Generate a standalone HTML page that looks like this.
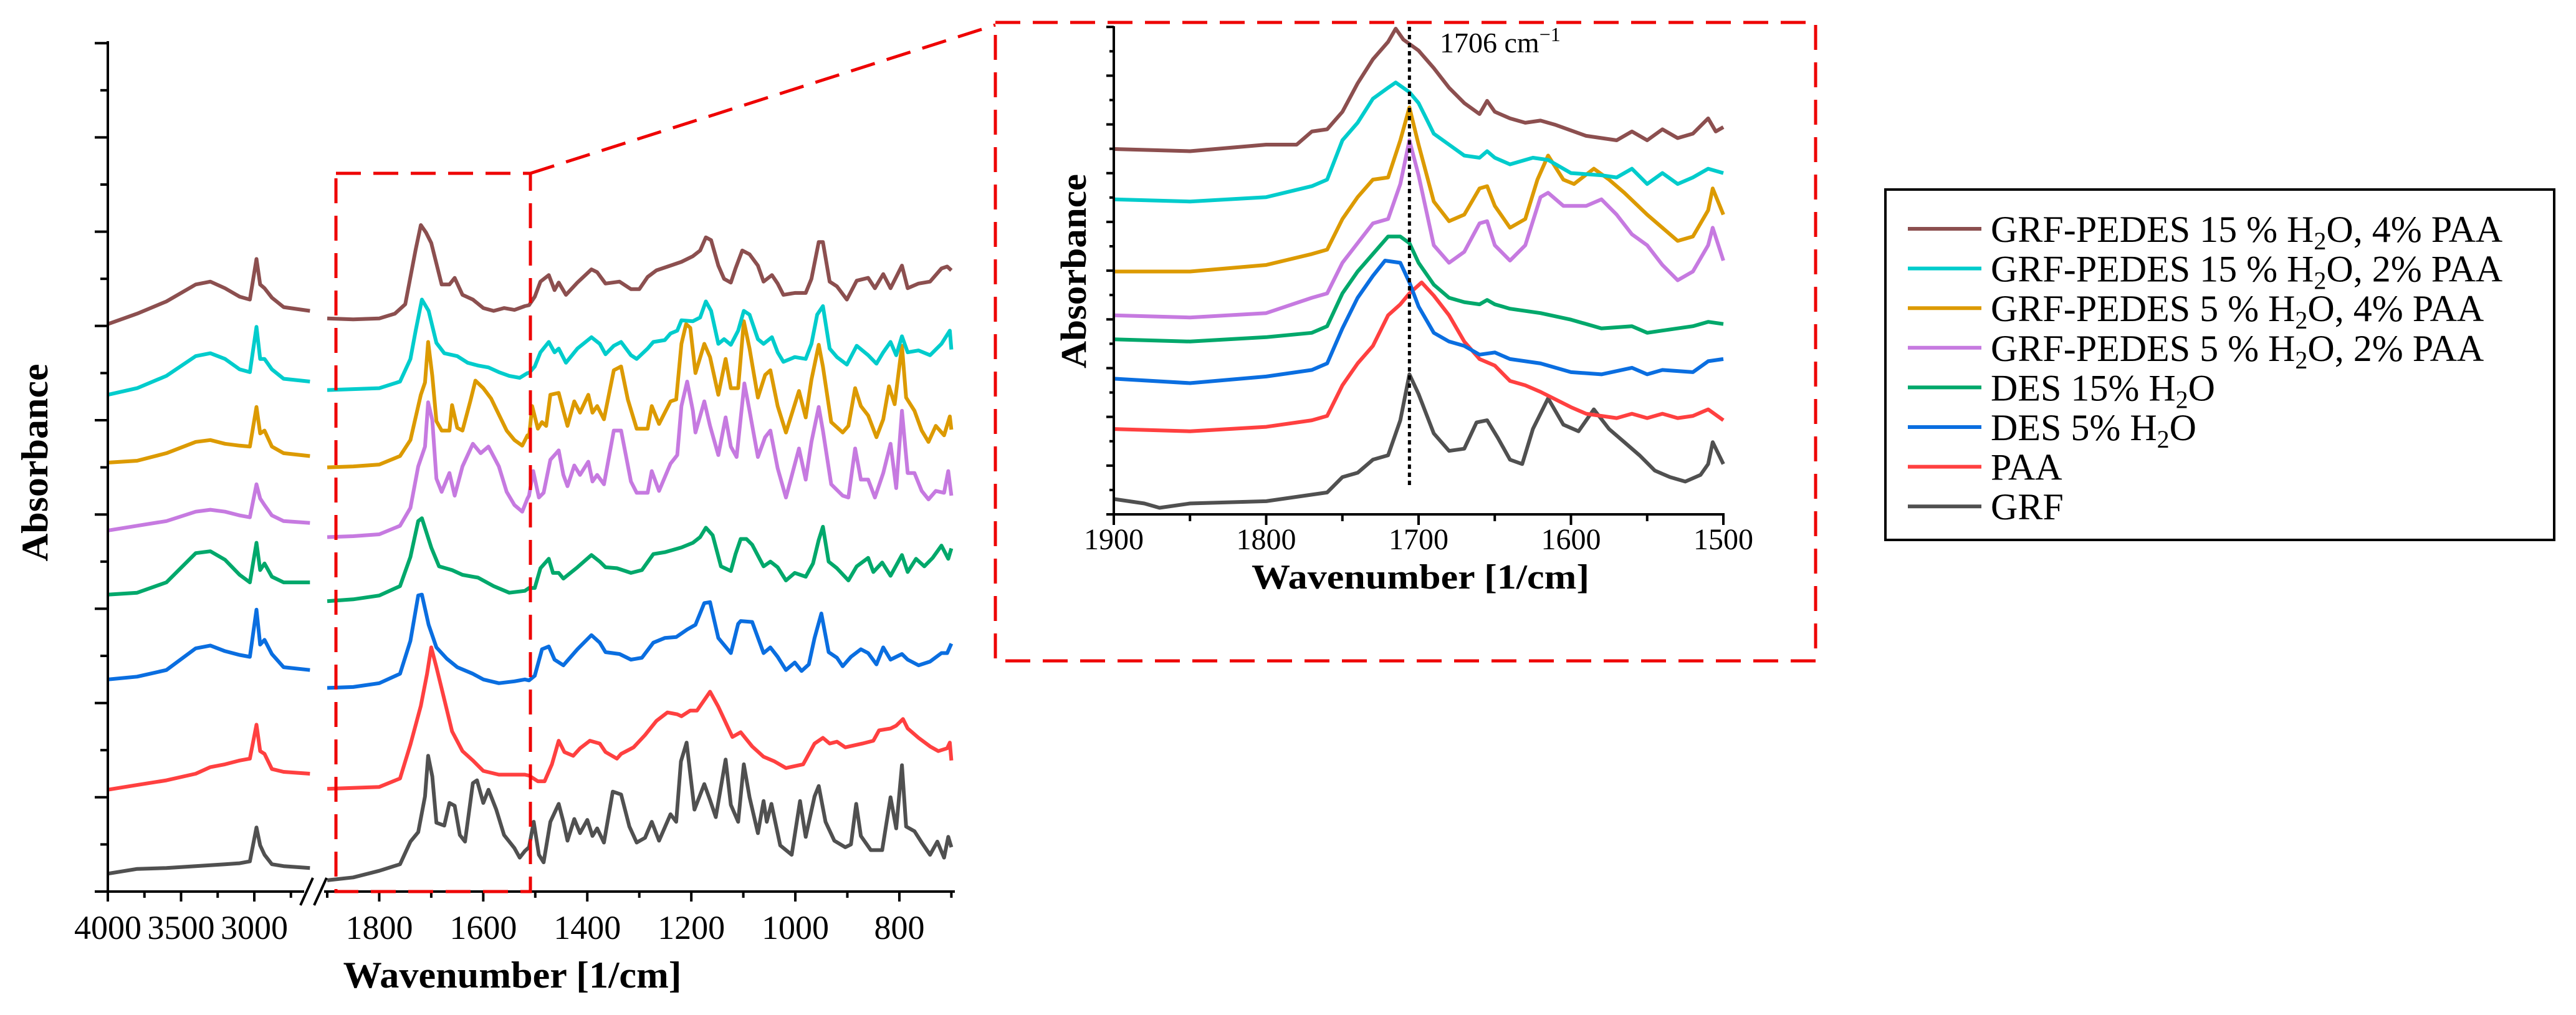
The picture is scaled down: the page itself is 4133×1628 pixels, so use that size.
<!DOCTYPE html>
<html><head><meta charset="utf-8"><style>html,body{margin:0;padding:0;background:#fff}svg{display:block}text{font-family:"Liberation Serif",serif}</style></head>
<body>
<svg id="chart" width="4133" height="1628" viewBox="0 0 4133 1628" xmlns="http://www.w3.org/2000/svg">
<rect width="4133" height="1628" fill="#fff"/>
<g id="main"></g>
<g id="inset"></g>
<g id="zoomMarks">
<rect x="539" y="278" width="312" height="1152" fill="none" stroke="#e00" stroke-width="5" stroke-dasharray="40 20"/>
<line x1="851" y1="278" x2="1597" y2="40" stroke="#e00" stroke-width="5" stroke-dasharray="40 20"/>
<rect x="1597" y="36" width="1316" height="1024" fill="none" stroke="#e00" stroke-width="5" stroke-dasharray="40 20"/>
</g>
<g>
<rect x="3025" y="304" width="1073" height="562" fill="#fff" stroke="#000" stroke-width="4"/>
<g id="legendItems"></g>
</g>
</svg>
<script>
const seriesNames = ["GRF-PEDES 15 % H2O, 4% PAA","GRF-PEDES 15 % H2O, 2% PAA","GRF-PEDES 5 % H2O, 4% PAA","GRF-PEDES 5 % H2O, 2% PAA","DES 15% H2O","DES 5% H2O","PAA","GRF"];
const seriesColors = ["#8c4f4f","#00cccc","#dc9a00","#c67ae0","#00a86b","#0a6ee0","#ff4040","#505050"];
const xTicksLeft = [4000,3500,3000];
const xTicksRight = [1800,1600,1400,1200,1000,800];
const insetTicks = [1900,1800,1700,1600,1500];
const markerWn = 1706;
const leftWn = [4000,3800,3600,3400,3300,3200,3100,3030,2985,2960,2930,2880,2800,2620];
const leftBrown = [6.02,6.13,6.26,6.44,6.47,6.40,6.31,6.28,6.71,6.44,6.40,6.30,6.20,6.16];
const leftCyan = [5.27,5.34,5.47,5.68,5.71,5.65,5.54,5.51,5.99,5.65,5.65,5.54,5.44,5.41];
const leftGold = [4.55,4.57,4.65,4.77,4.79,4.75,4.73,4.72,5.14,4.86,4.89,4.72,4.65,4.62];
const leftPurple = [3.83,3.88,3.93,4.03,4.05,4.03,3.99,3.97,4.32,4.17,4.10,3.99,3.93,3.91];
const leftGreen = [3.15,3.17,3.28,3.59,3.61,3.52,3.36,3.28,3.70,3.41,3.48,3.34,3.28,3.28];
const leftBlue = [2.25,2.28,2.35,2.58,2.61,2.55,2.51,2.49,2.99,2.62,2.67,2.52,2.38,2.35];
const leftRed = [1.08,1.13,1.18,1.25,1.32,1.35,1.39,1.41,1.77,1.49,1.46,1.30,1.27,1.25];
const leftGray = [0.19,0.24,0.25,0.27,0.28,0.29,0.30,0.32,0.68,0.49,0.39,0.29,0.27,0.25];

const rightBrown = [[1900,6.08],[1850,6.07],[1800,6.08],[1770,6.13],[1750,6.23],[1730,6.81],[1720,7.07],[1710,6.99],[1700,6.88],[1680,6.44],[1665,6.44],[1655,6.51],[1640,6.33],[1620,6.28],[1600,6.19],[1580,6.16],[1560,6.19],[1540,6.17],[1520,6.21],[1512,6.22],[1501,6.31],[1490,6.47],[1474,6.54],[1463,6.38],[1455,6.46],[1441,6.33],[1419,6.46],[1392,6.60],[1381,6.57],[1365,6.45],[1338,6.47],[1316,6.39],[1300,6.39],[1284,6.52],[1267,6.59],[1240,6.64],[1219,6.68],[1197,6.74],[1183,6.80],[1172,6.94],[1162,6.91],[1148,6.64],[1137,6.50],[1124,6.46],[1115,6.61],[1102,6.80],[1088,6.76],[1072,6.64],[1061,6.47],[1045,6.54],[1034,6.45],[1023,6.33],[1001,6.35],[980,6.35],[969,6.50],[955,6.89],[947,6.89],[934,6.47],[920,6.42],[901,6.28],[882,6.48],[860,6.51],[847,6.40],[831,6.55],[817,6.40],[795,6.64],[784,6.40],[763,6.45],[741,6.47],[719,6.61],[708,6.63],[700,6.59]];
const rightCyan = [[1900,5.32],[1800,5.34],[1760,5.41],[1740,5.65],[1730,5.95],[1718,6.28],[1705,6.16],[1690,5.82],[1675,5.71],[1650,5.68],[1630,5.61],[1610,5.58],[1590,5.56],[1570,5.51],[1550,5.47],[1530,5.45],[1515,5.50],[1512,5.50],[1501,5.57],[1490,5.72],[1474,5.83],[1463,5.72],[1455,5.76],[1441,5.61],[1419,5.76],[1392,5.88],[1376,5.81],[1365,5.70],[1349,5.79],[1335,5.83],[1316,5.69],[1305,5.65],[1284,5.76],[1273,5.83],[1251,5.85],[1240,5.92],[1227,5.95],[1219,6.06],[1197,6.05],[1183,6.09],[1172,6.26],[1162,6.16],[1148,5.81],[1137,5.86],[1124,5.80],[1110,5.95],[1099,6.16],[1088,6.12],[1072,5.86],[1061,5.81],[1045,5.88],[1034,5.72],[1023,5.62],[1001,5.67],[980,5.65],[969,5.81],[958,6.12],[947,6.21],[934,5.76],[920,5.67],[901,5.59],[882,5.79],[860,5.69],[844,5.60],[831,5.72],[817,5.83],[806,5.69],[795,5.89],[784,5.72],[763,5.74],[741,5.69],[719,5.81],[703,5.95],[700,5.75]];
const rightGold = [[1900,4.50],[1850,4.51],[1800,4.53],[1760,4.62],[1740,4.79],[1720,5.27],[1712,5.40],[1706,5.83],[1698,5.47],[1690,4.99],[1680,4.89],[1665,4.89],[1660,5.16],[1650,4.92],[1640,4.89],[1625,5.20],[1615,5.42],[1600,5.34],[1585,5.23],[1570,5.06],[1555,4.89],[1540,4.79],[1525,4.73],[1515,4.84],[1512,4.82],[1506,5.15],[1495,4.91],[1487,4.98],[1479,4.94],[1471,5.27],[1455,5.29],[1446,5.10],[1438,4.94],[1425,5.20],[1414,5.08],[1398,5.27],[1390,5.08],[1381,5.15],[1368,5.01],[1349,5.53],[1335,5.57],[1322,5.22],[1305,4.91],[1284,4.91],[1276,5.15],[1262,4.96],[1240,5.20],[1229,5.22],[1219,5.81],[1210,6.02],[1202,5.98],[1192,5.50],[1175,5.81],[1164,5.67],[1148,5.27],[1134,5.65],[1124,5.34],[1110,5.34],[1099,6.05],[1088,5.76],[1072,5.24],[1058,5.48],[1048,5.53],[1034,5.15],[1018,4.87],[993,5.31],[980,5.03],[969,5.43],[955,5.80],[947,5.57],[931,4.98],[909,4.87],[898,4.94],[885,5.34],[874,5.15],[860,5.05],[844,4.82],[831,5.01],[820,5.36],[809,5.17],[795,5.79],[787,5.24],[771,5.10],[757,4.89],[744,4.77],[730,4.94],[714,4.84],[703,5.04],[700,4.90]];
const rightPurple = [[1900,3.76],[1850,3.77],[1800,3.79],[1760,3.88],[1740,4.07],[1725,4.51],[1712,4.72],[1706,5.19],[1698,5.00],[1690,4.38],[1680,4.24],[1665,4.44],[1655,4.20],[1640,4.51],[1620,4.75],[1605,4.65],[1590,4.72],[1570,4.51],[1555,4.24],[1540,4.10],[1525,4.03],[1515,4.17],[1512,4.20],[1504,4.46],[1493,4.18],[1484,4.23],[1471,4.58],[1455,4.68],[1446,4.42],[1438,4.30],[1425,4.52],[1414,4.42],[1398,4.56],[1390,4.35],[1381,4.42],[1368,4.32],[1349,4.89],[1335,4.89],[1316,4.35],[1305,4.23],[1284,4.23],[1276,4.46],[1262,4.25],[1240,4.54],[1227,4.63],[1219,5.15],[1208,5.41],[1197,5.10],[1192,4.87],[1175,5.20],[1164,4.94],[1148,4.63],[1134,5.03],[1124,4.72],[1113,4.61],[1098,5.39],[1088,5.10],[1072,4.61],[1058,4.82],[1048,4.89],[1034,4.49],[1018,4.18],[993,4.70],[980,4.37],[969,4.77],[955,5.14],[947,4.89],[931,4.32],[909,4.20],[898,4.18],[885,4.70],[874,4.37],[860,4.37],[847,4.18],[831,4.44],[817,4.75],[806,4.28],[795,5.10],[784,4.44],[771,4.44],[757,4.25],[744,4.16],[730,4.25],[714,4.23],[706,4.46],[700,4.20]];
const rightGreen = [[1900,3.08],[1850,3.10],[1800,3.14],[1760,3.24],[1740,3.55],[1725,3.93],[1718,3.96],[1700,3.65],[1685,3.45],[1660,3.41],[1640,3.36],[1610,3.33],[1580,3.24],[1550,3.17],[1520,3.19],[1512,3.22],[1501,3.22],[1490,3.43],[1474,3.53],[1466,3.38],[1455,3.38],[1446,3.32],[1419,3.44],[1392,3.57],[1376,3.50],[1365,3.44],[1343,3.43],[1316,3.38],[1295,3.41],[1273,3.58],[1251,3.60],[1219,3.65],[1197,3.70],[1183,3.76],[1172,3.86],[1159,3.78],[1143,3.45],[1124,3.40],[1115,3.58],[1105,3.74],[1094,3.74],[1083,3.68],[1061,3.45],[1048,3.50],[1034,3.44],[1018,3.30],[1001,3.38],[980,3.34],[966,3.48],[955,3.73],[947,3.87],[936,3.50],[920,3.43],[898,3.30],[882,3.45],[860,3.54],[850,3.39],[833,3.49],[817,3.35],[795,3.57],[784,3.39],[768,3.53],[752,3.45],[736,3.54],[719,3.67],[706,3.53],[700,3.64]];
const rightBlue = [[1900,2.16],[1850,2.17],[1800,2.21],[1760,2.31],[1740,2.66],[1725,3.14],[1718,3.15],[1705,2.83],[1690,2.59],[1670,2.47],[1650,2.38],[1620,2.31],[1600,2.25],[1570,2.21],[1540,2.23],[1520,2.25],[1512,2.24],[1501,2.29],[1487,2.57],[1474,2.60],[1463,2.46],[1446,2.40],[1419,2.57],[1392,2.72],[1376,2.64],[1365,2.54],[1338,2.52],[1316,2.46],[1295,2.48],[1273,2.64],[1251,2.69],[1229,2.70],[1208,2.78],[1192,2.83],[1175,3.06],[1164,3.07],[1148,2.69],[1124,2.53],[1110,2.84],[1105,2.87],[1083,2.86],[1061,2.53],[1048,2.59],[1034,2.49],[1018,2.35],[1001,2.43],[988,2.34],[974,2.41],[963,2.69],[950,2.95],[936,2.54],[920,2.48],[909,2.39],[893,2.49],[874,2.57],[860,2.53],[844,2.41],[831,2.59],[817,2.46],[795,2.52],[784,2.46],[763,2.40],[741,2.44],[719,2.53],[708,2.53],[700,2.63]];
const rightRed = [[1900,1.09],[1850,1.10],[1800,1.11],[1760,1.20],[1740,1.56],[1720,1.97],[1708,2.31],[1700,2.59],[1690,2.38],[1675,2.04],[1660,1.70],[1640,1.49],[1620,1.39],[1600,1.28],[1570,1.24],[1540,1.24],[1520,1.24],[1512,1.23],[1495,1.17],[1482,1.17],[1468,1.35],[1455,1.60],[1444,1.48],[1427,1.44],[1414,1.52],[1395,1.60],[1376,1.57],[1365,1.48],[1343,1.41],[1335,1.46],[1311,1.53],[1289,1.66],[1267,1.81],[1246,1.90],[1227,1.88],[1219,1.86],[1202,1.92],[1189,1.92],[1164,2.12],[1148,1.96],[1121,1.64],[1105,1.69],[1083,1.54],[1061,1.43],[1040,1.38],[1018,1.31],[985,1.35],[963,1.57],[947,1.63],[934,1.57],[920,1.59],[904,1.53],[871,1.57],[850,1.60],[839,1.71],[817,1.73],[806,1.76],[793,1.83],[784,1.73],[763,1.63],[741,1.54],[725,1.49],[708,1.52],[703,1.58],[700,1.39]];
const rightGray = [[1900,0.12],[1850,0.15],[1800,0.22],[1760,0.29],[1740,0.53],[1725,0.63],[1712,1.01],[1706,1.44],[1698,1.22],[1690,0.73],[1675,0.70],[1665,0.94],[1655,0.91],[1645,0.60],[1635,0.53],[1620,1.15],[1612,1.18],[1600,0.94],[1590,1.08],[1575,0.87],[1560,0.60],[1540,0.46],[1530,0.36],[1520,0.43],[1512,0.47],[1503,0.74],[1493,0.39],[1484,0.31],[1471,0.74],[1455,0.93],[1446,0.74],[1438,0.54],[1425,0.77],[1414,0.62],[1400,0.76],[1390,0.59],[1381,0.67],[1368,0.52],[1351,1.06],[1335,1.03],[1319,0.69],[1305,0.52],[1289,0.57],[1276,0.74],[1262,0.54],[1240,0.82],[1229,0.74],[1220,1.38],[1209,1.58],[1194,0.87],[1175,1.14],[1164,0.97],[1153,0.79],[1134,1.40],[1124,0.92],[1110,0.74],[1099,1.35],[1088,1.00],[1072,0.62],[1061,0.96],[1055,0.74],[1046,0.93],[1029,0.49],[1007,0.39],[991,0.96],[980,0.58],[963,1.01],[955,1.12],[942,0.74],[925,0.54],[904,0.47],[893,0.50],[883,0.93],[874,0.59],[855,0.44],[833,0.44],[817,1.00],[806,0.67],[795,1.34],[787,0.69],[771,0.64],[757,0.52],[741,0.39],[727,0.53],[714,0.36],[706,0.58],[700,0.47]];

const insetBrown = [[1900,8.35],[1850,8.30],[1800,8.45],[1780,8.45],[1770,8.75],[1760,8.80],[1750,9.20],[1740,9.85],[1730,10.40],[1720,10.80],[1715,11.10],[1710,10.85],[1700,10.60],[1690,10.20],[1680,9.75],[1670,9.40],[1660,9.15],[1655,9.45],[1650,9.20],[1640,9.05],[1630,8.95],[1620,9.00],[1610,8.90],[1590,8.65],[1570,8.55],[1560,8.75],[1550,8.55],[1540,8.80],[1530,8.60],[1520,8.70],[1510,9.05],[1505,8.75],[1500,8.85]];
const insetCyan = [[1900,7.20],[1850,7.15],[1800,7.25],[1770,7.50],[1760,7.65],[1750,8.55],[1740,8.95],[1730,9.50],[1720,9.75],[1715,9.87],[1706,9.65],[1700,9.40],[1690,8.70],[1680,8.45],[1670,8.20],[1660,8.15],[1655,8.30],[1650,8.15],[1640,8.00],[1625,8.15],[1615,8.10],[1600,7.80],[1580,7.75],[1570,7.70],[1560,7.90],[1550,7.55],[1540,7.80],[1530,7.55],[1520,7.70],[1510,7.90],[1500,7.80]];
const insetGold = [[1900,5.55],[1850,5.55],[1800,5.70],[1770,5.95],[1760,6.05],[1750,6.75],[1740,7.25],[1730,7.65],[1720,7.70],[1712,8.55],[1706,9.30],[1700,8.45],[1690,7.15],[1680,6.70],[1670,6.85],[1660,7.45],[1655,7.50],[1650,7.05],[1640,6.55],[1630,6.75],[1622,7.65],[1615,8.20],[1605,7.65],[1598,7.55],[1585,7.90],[1575,7.65],[1565,7.35],[1550,6.85],[1540,6.55],[1530,6.25],[1520,6.35],[1510,6.95],[1507,7.45],[1500,6.85]];
const insetPurple = [[1900,4.55],[1850,4.50],[1800,4.60],[1770,4.95],[1760,5.05],[1750,5.75],[1740,6.20],[1730,6.65],[1720,6.75],[1712,7.55],[1706,8.55],[1700,7.75],[1690,6.15],[1680,5.75],[1670,6.00],[1660,6.65],[1655,6.70],[1650,6.15],[1640,5.80],[1630,6.15],[1620,7.25],[1615,7.35],[1605,7.05],[1590,7.05],[1580,7.20],[1570,6.85],[1560,6.40],[1550,6.15],[1540,5.70],[1530,5.35],[1520,5.55],[1510,6.15],[1507,6.55],[1500,5.80]];
const insetGreen = [[1900,4.00],[1850,3.95],[1800,4.05],[1770,4.15],[1760,4.30],[1750,5.05],[1740,5.55],[1730,5.95],[1720,6.35],[1712,6.35],[1706,6.20],[1700,5.75],[1690,5.25],[1680,4.95],[1670,4.85],[1660,4.80],[1655,4.90],[1650,4.80],[1640,4.70],[1620,4.60],[1600,4.45],[1580,4.25],[1560,4.30],[1550,4.15],[1540,4.20],[1520,4.30],[1510,4.40],[1500,4.35]];
const insetBlue = [[1900,3.10],[1850,3.00],[1800,3.15],[1770,3.30],[1760,3.45],[1750,4.25],[1740,4.95],[1730,5.45],[1722,5.80],[1712,5.75],[1706,5.30],[1700,4.75],[1690,4.15],[1680,3.95],[1670,3.85],[1660,3.65],[1650,3.70],[1640,3.55],[1620,3.45],[1600,3.25],[1580,3.20],[1560,3.35],[1550,3.20],[1540,3.30],[1520,3.25],[1510,3.50],[1500,3.55]];
const insetRed = [[1900,1.95],[1850,1.90],[1800,2.00],[1770,2.15],[1760,2.25],[1750,2.95],[1740,3.45],[1730,3.85],[1720,4.55],[1712,4.80],[1706,5.05],[1698,5.30],[1690,5.00],[1680,4.55],[1670,3.95],[1660,3.55],[1650,3.40],[1640,3.05],[1630,2.95],[1620,2.80],[1600,2.45],[1590,2.30],[1580,2.25],[1570,2.20],[1560,2.30],[1550,2.20],[1540,2.30],[1530,2.20],[1520,2.25],[1510,2.40],[1500,2.15]];
const insetGray = [[1900,0.35],[1880,0.25],[1870,0.15],[1850,0.25],[1800,0.30],[1770,0.45],[1760,0.50],[1750,0.85],[1740,0.95],[1730,1.25],[1720,1.35],[1712,2.15],[1706,3.20],[1700,2.75],[1690,1.85],[1680,1.45],[1670,1.50],[1662,2.10],[1655,2.15],[1648,1.75],[1640,1.25],[1632,1.15],[1625,1.95],[1615,2.65],[1605,2.05],[1595,1.90],[1585,2.40],[1575,1.95],[1565,1.65],[1555,1.35],[1545,1.00],[1535,0.85],[1525,0.75],[1515,0.90],[1510,1.15],[1507,1.65],[1500,1.15]];

const NS = "http://www.w3.org/2000/svg";
function mk(tag, attrs, parent){const e=document.createElementNS(NS,tag);for(const k in attrs)e.setAttribute(k,attrs[k]);parent.appendChild(e);return e;}
const xLeft = w => 173 + (4000 - w) * 0.235;
const xRight = w => 525 + (1900 - w) * 0.8345;
const yMain = v => 1430 - v * 151.2;
const xIn = w => 1787 + (1900 - w) * 2.445;
const yIn = a => 825 - a * 70.18;

const main = document.getElementById('main');
const inset = document.getElementById('inset');
const leftSets = [leftBrown,leftCyan,leftGold,leftPurple,leftGreen,leftBlue,leftRed,leftGray];
const rightSets = [rightBrown,rightCyan,rightGold,rightPurple,rightGreen,rightBlue,rightRed,rightGray];
const insetSets = [insetBrown,insetCyan,insetGold,insetPurple,insetGreen,insetBlue,insetRed,insetGray];

for(let i=seriesNames.length-1;i>=0;i--){
  const dl = leftWn.map((w,j)=>(j?'L':'M')+xLeft(w).toFixed(1)+','+yMain(leftSets[i][j]).toFixed(1)).join('');
  const p1 = mk('path',{d:dl,fill:'none',stroke:seriesColors[i],'stroke-width':6,'stroke-linejoin':'round'},main);
  
  
  const dr = rightSets[i].map((p,j)=>(j?'L':'M')+xRight(p[0]).toFixed(1)+','+yMain(p[1]).toFixed(1)).join('');
  const p2 = mk('path',{d:dr,fill:'none',stroke:seriesColors[i],'stroke-width':6,'stroke-linejoin':'round'},main);
  
  
  const di = insetSets[i].map((p,j)=>(j?'L':'M')+xIn(p[0]).toFixed(1)+','+yIn(p[1]).toFixed(1)).join('');
  const p3 = mk('path',{d:di,fill:'none',stroke:seriesColors[i],'stroke-width':6,'stroke-linejoin':'round'},inset);
  
  
}

const ya = mk('line',{x1:173,y1:66,x2:173,y2:1432,stroke:'#000','stroke-width':4},main);


for(let k=0;k<=18;k++){
  const y = 1430 - k*75.6;
  const t = mk('line',{x1:(k%2?161:152),y1:y,x2:173,y2:y,stroke:'#000','stroke-width':4},main);
  
  
}
const xa1 = mk('line',{x1:171,y1:1430,x2:488,y2:1430,stroke:'#000','stroke-width':4},main);


const xa2 = mk('line',{x1:520,y1:1430,x2:1532,y2:1430,stroke:'#000','stroke-width':4},main);


[[482,1452,502,1408],[504,1452,524,1408]].forEach(c=>{
  const b = mk('line',{x1:c[0],y1:c[1],x2:c[2],y2:c[3],stroke:'#000','stroke-width':4},main);
  
  
});
for(let w=4000; w>=2700; w-=250){
  const x=xLeft(w), major = w%500===0;
  const t = mk('line',{x1:x,y1:1430,x2:x,y2:major?1446:1440,stroke:'#000','stroke-width':4},main);
  
  
}
for(let w=1900; w>=700; w-=100){
  const x=xRight(w), major = w%200===0;
  const t = mk('line',{x1:x,y1:1430,x2:x,y2:major?1446:1440,stroke:'#000','stroke-width':4},main);
  
  
}
xTicksLeft.forEach(w=>{
  const t = mk('text',{x:xLeft(w),y:1506,'font-size':54,'text-anchor':'middle'},main);
  t.textContent=w;
  
  
});
xTicksRight.forEach(w=>{
  const t = mk('text',{x:xRight(w),y:1506,'font-size':54,'text-anchor':'middle'},main);
  t.textContent=w;
  
  
});
const xt = mk('text',{x:822,y:1584,'font-size':60,'font-weight':'bold','text-anchor':'middle',textLength:543,lengthAdjust:'spacingAndGlyphs'},main);
xt.textContent='Wavenumber [1/cm]';


const yt = mk('text',{x:0,y:0,'font-size':60,'font-weight':'bold','text-anchor':'middle',transform:'translate(76,742) rotate(-90)',textLength:317,lengthAdjust:'spacingAndGlyphs'},main);
yt.textContent='Absorbance';



const iya = mk('line',{x1:1787,y1:42,x2:1787,y2:827,stroke:'#000','stroke-width':4},inset);


for(let k=0;k<=20;k++){
  const y = 825 - k*39.09;
  const t = mk('line',{x1:(k%2?1780:1775),y1:y,x2:1787,y2:y,stroke:'#000','stroke-width':4},inset);
  
  
}
const ixa = mk('line',{x1:1785,y1:825,x2:2767,y2:825,stroke:'#000','stroke-width':4},inset);


for(let w=1900; w>=1500; w-=50){
  const x=xIn(w), major = w%100===0;
  const t = mk('line',{x1:x,y1:825,x2:x,y2:major?842:836,stroke:'#000','stroke-width':4},inset);
  
  
}
insetTicks.forEach(w=>{
  const t = mk('text',{x:xIn(w),y:881,'font-size':48,'text-anchor':'middle'},inset);
  t.textContent=w;
  
  
});
const ixt = mk('text',{x:2279,y:944,'font-size':56,'font-weight':'bold','text-anchor':'middle',textLength:542,lengthAdjust:'spacingAndGlyphs'},inset);
ixt.textContent='Wavenumber [1/cm]';


const iyt = mk('text',{x:0,y:0,'font-size':58,'font-weight':'bold','text-anchor':'middle',transform:'translate(1742,435) rotate(-90)',textLength:312,lengthAdjust:'spacingAndGlyphs'},inset);
iyt.textContent='Absorbance';


const ml = mk('line',{x1:xIn(markerWn),y1:43,x2:xIn(markerWn),y2:782,stroke:'#000','stroke-width':5,'stroke-dasharray':'7 6'},inset);


const mt = mk('text',{x:2310,y:84,'font-size':46},inset);


mt.innerHTML = markerWn + ' cm<tspan font-size="32" dy="-18">−1</tspan>';

const lg = document.getElementById('legendItems');
seriesNames.forEach((n,i)=>{
  const y = 367 + i*63.6;
  const g = mk('g',{},lg);
  
  
  const l = mk('line',{x1:3061,y1:y,x2:3179,y2:y,stroke:seriesColors[i],'stroke-width':6},g);
  
  
  const t = mk('text',{x:3194,y:y+21,'font-size':60},g);
  
  
  const parts = n.split('H2O');
  if(parts.length>1){
    t.innerHTML = parts[0]+'H<tspan font-size="40" dy="12">2</tspan><tspan dy="-12">O'+parts[1]+'</tspan>';
  } else t.textContent = n;
});
</script>
</body></html>
